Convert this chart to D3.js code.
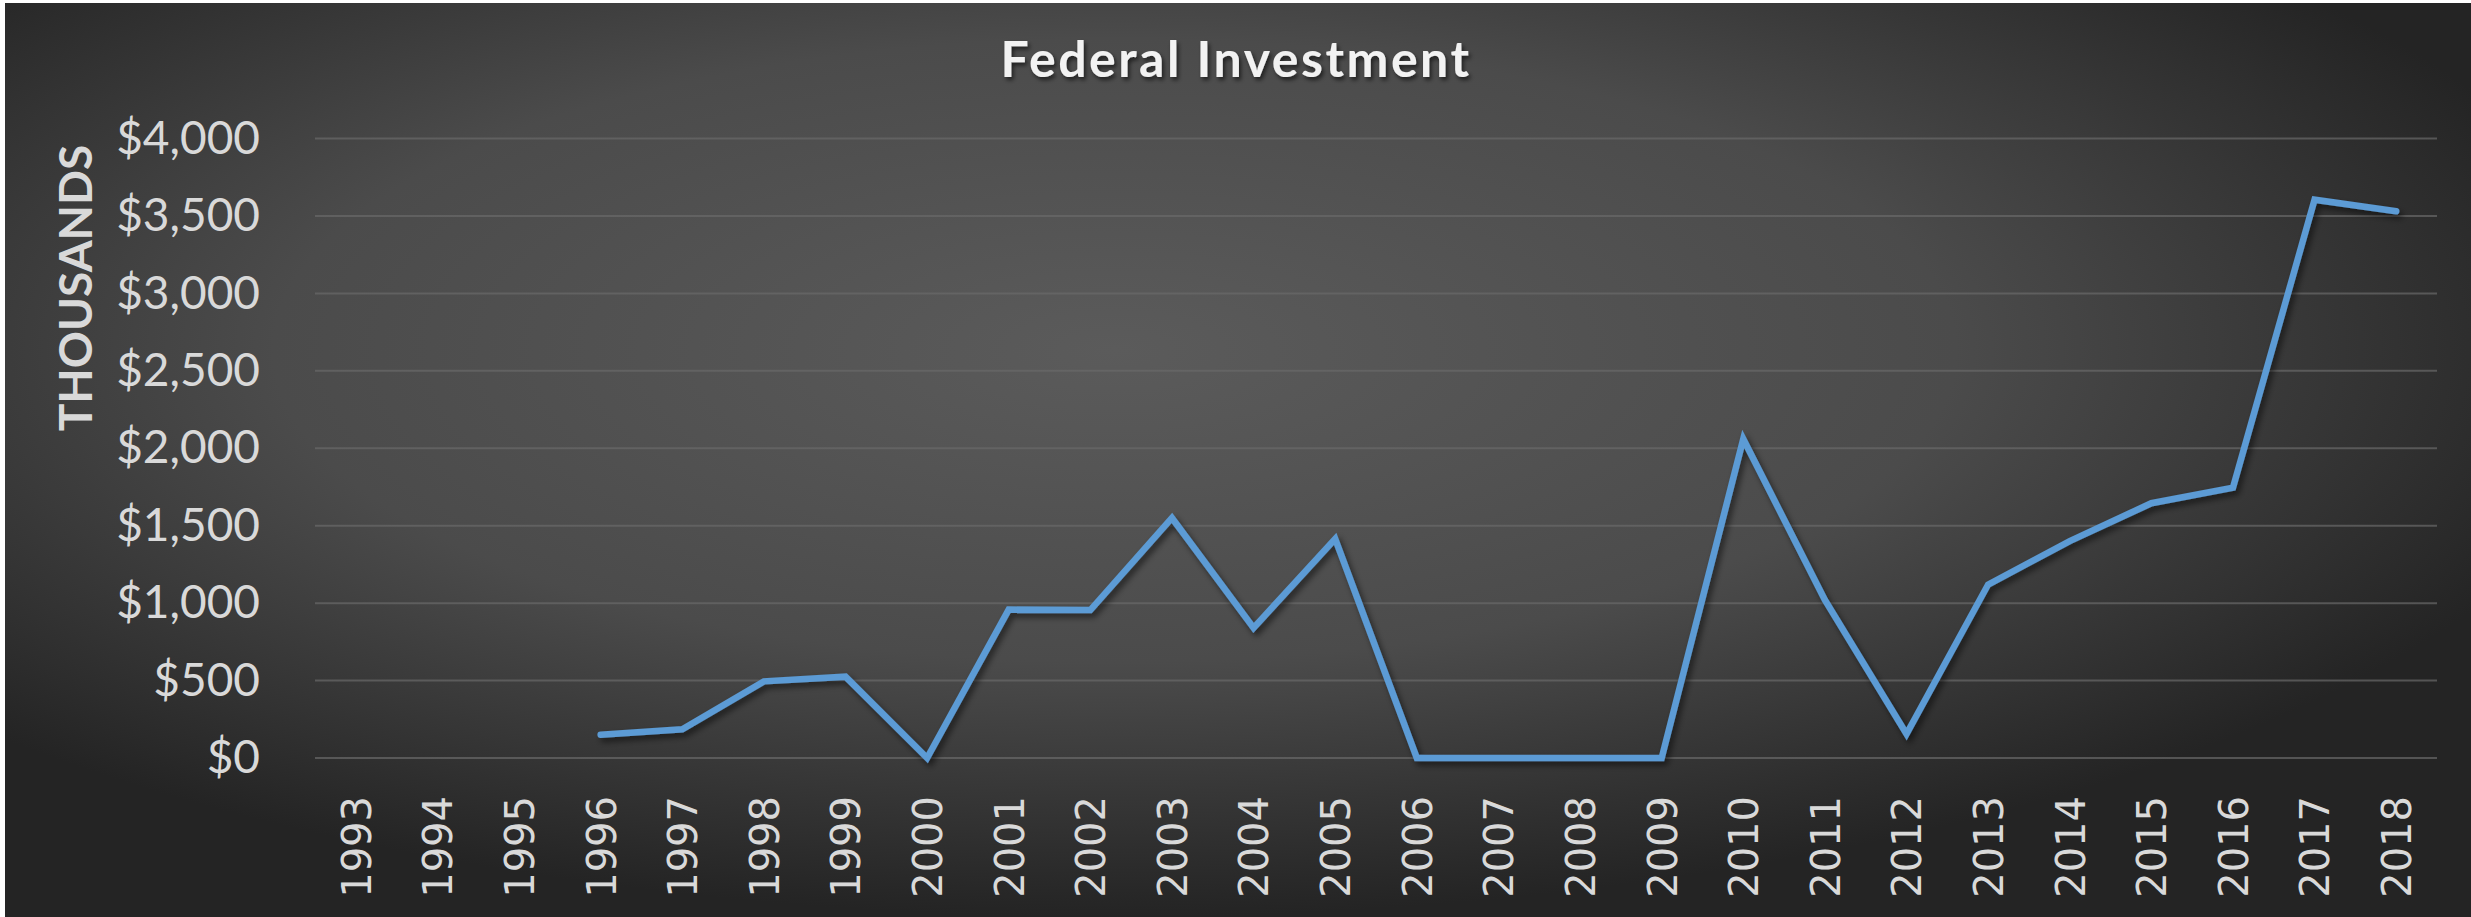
<!DOCTYPE html>
<html>
<head>
<meta charset="utf-8">
<script src="https://cdn.jsdelivr.net/npm/d3@7"></script>
<style>
  html, body { margin: 0; padding: 0; background: #ffffff; }
  svg { display: block; }
</style>
</head>
<body>
<svg id="canvas"></svg>
<script>
// Chart data
const years = [1993, 1994, 1995, 1996, 1997, 1998, 1999, 2000, 2001, 2002, 2003, 2004, 2005,
               2006, 2007, 2008, 2009, 2010, 2011, 2012, 2013, 2014, 2015, 2016, 2017, 2018];
const investment = [null, null, null, 150, 185, 495, 525, 0, 958, 955, 1550, 840, 1415,
                    0, 0, 0, 0, 2060, 1020, 155, 1120, 1400, 1645, 1745, 3605, 3530];
const yTicks = [0, 500, 1000, 1500, 2000, 2500, 3000, 3500, 4000];

const width = 2471;
const height = 917;

const plot = { left: 315, right: 2437, top: 138.5, bottom: 758 };

const svg = d3.select("#canvas")
    .attr("width", width)
    .attr("height", height);

const defs = svg.append("defs");

// Radial background like the Excel chart area
const grad = defs.append("radialGradient")
    .attr("id", "bg")
    .attr("cx", "45%")
    .attr("cy", "38%")
    .attr("r", "62%");
grad.append("stop").attr("offset", "0%").attr("stop-color", "#5b5b5b");
grad.append("stop").attr("offset", "55%").attr("stop-color", "#4b4b4b");
grad.append("stop").attr("offset", "100%").attr("stop-color", "#242424");

const shadow = defs.append("filter")
    .attr("id", "shadow")
    .attr("x", "-5%").attr("y", "-5%")
    .attr("width", "110%").attr("height", "120%");
shadow.append("feDropShadow")
    .attr("dx", 3).attr("dy", 4)
    .attr("stdDeviation", 3)
    .attr("flood-color", "#000")
    .attr("flood-opacity", 0.55);

const textShadow = defs.append("filter").attr("id", "tshadow");
textShadow.append("feDropShadow")
    .attr("dx", 2).attr("dy", 3)
    .attr("stdDeviation", 2)
    .attr("flood-color", "#000")
    .attr("flood-opacity", 0.6);

svg.append("rect")
    .attr("x", 5)
    .attr("y", 3)
    .attr("width", width - 5)
    .attr("height", height - 3)
    .attr("fill", "url(#bg)");

// Scales
const x = d3.scalePoint()
    .domain(years)
    .range([plot.left, plot.right])
    .padding(0.5);

const y = d3.scaleLinear()
    .domain([0, 4000])
    .range([plot.bottom, plot.top]);

// Gridlines
svg.append("g")
    .selectAll("line")
    .data(yTicks)
    .enter()
    .append("line")
    .attr("x1", plot.left)
    .attr("x2", plot.right)
    .attr("y1", d => y(d))
    .attr("y2", d => y(d))
    .attr("stroke", "#6a6a6a")
    .attr("stroke-opacity", 0.7)
    .attr("stroke-width", 2);

// Y axis
const yAxis = svg.append("g")
    .attr("transform", `translate(${plot.left},0)`)
    .call(d3.axisLeft(y)
        .tickValues(yTicks)
        .tickSize(0)
        .tickPadding(55)
        .tickFormat(d => "$" + d3.format(",")(d)));
yAxis.select(".domain").remove();
yAxis.selectAll("text")
    .attr("fill", "#d9d9d9")
    .style("font-family", "Lato, 'Open Sans', sans-serif")
    .style("font-size", "46px");

// X axis
const xAxis = svg.append("g")
    .attr("transform", `translate(0,${plot.bottom})`)
    .call(d3.axisBottom(x).tickSize(0));
xAxis.select(".domain").remove();
xAxis.selectAll("text")
    .attr("transform", "rotate(-90)")
    .attr("x", -38)
    .attr("y", 0)
    .attr("dy", "0.36em")
    .style("text-anchor", "end")
    .attr("fill", "#d9d9d9")
    .style("font-family", "'DejaVu Sans', sans-serif")
    .style("font-size", "40px");

// Line
const line = d3.line()
    .defined(d => d.value !== null)
    .x(d => x(d.year))
    .y(d => y(d.value));

const series = years.map((yr, i) => ({ year: yr, value: investment[i] }));

svg.append("path")
    .datum(series)
    .attr("d", line)
    .attr("fill", "none")
    .attr("stroke", "#5b9bd5")
    .attr("stroke-width", 6.5)
    .attr("stroke-linejoin", "miter")
    .attr("stroke-linecap", "round")
    .attr("filter", "url(#shadow)");

// Title
svg.append("text")
    .attr("x", 1236)
    .attr("y", 77)
    .attr("text-anchor", "middle")
    .attr("fill", "#f2f2f2")
    .attr("filter", "url(#tshadow)")
    .style("font-family", "Lato, 'Open Sans', sans-serif")
    .style("font-weight", "bold")
    .style("font-size", "50px")
    .style("letter-spacing", "2.5px")
    .text("Federal Investment");

// Axis title
svg.append("text")
    .attr("transform", "translate(92,288) rotate(-90)")
    .attr("text-anchor", "middle")
    .attr("fill", "#d9d9d9")
    .style("font-family", "Lato, 'Open Sans', sans-serif")
    .style("font-weight", "bold")
    .style("font-size", "46px")
    .text("THOUSANDS");
</script>
</body>
</html>
